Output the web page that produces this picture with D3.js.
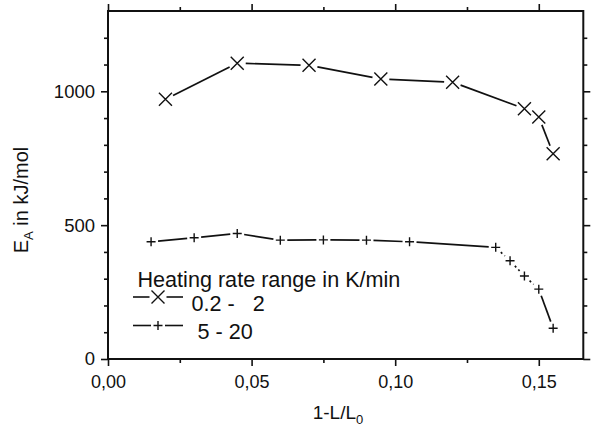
<!DOCTYPE html>
<html>
<head>
<meta charset="utf-8">
<script src="https://cdn.jsdelivr.net/npm/d3@7"></script>
<style>
  body { margin: 0; background: #fff; }
  svg { display: block; font-family: "Liberation Sans", Arial, sans-serif; }
  .axis path, .axis line { stroke: #111; }
  .axis text { fill: #111; }
</style>
</head>
<body>
<div id="chart"></div>
<script>
'use strict';

// heating rate 0.2 - 2 K/min
const shrinkLow = [0.02, 0.045, 0.07, 0.095, 0.12, 0.145, 0.15, 0.155];
const energyLow = [970, 1105, 1097, 1046, 1034, 935, 904, 767];

// heating rate 5 - 20 K/min
const shrinkHigh = [0.015, 0.03, 0.045, 0.06, 0.075, 0.09, 0.105, 0.135, 0.14, 0.145, 0.15, 0.155];
const energyHigh = [438, 453, 469, 444, 445, 444, 438, 417, 367, 310, 261, 115];
const dottedHigh = [7, 8, 9]; // segments drawn dotted

const xMajor = [0, 0.05, 0.10, 0.15];
const xMinor = [0.025, 0.075, 0.125];
const yMajor = [0, 500, 1000];
const yMinor = [100, 200, 300, 400, 600, 700, 800, 900, 1100, 1200];

const legendTitle = 'Heating rate range in K/min';
const legendLabels = ['0.2 -   2', ' 5 - 20'];

var W = 593, H = 427;
var plot = { left: 108, right: 583.3, top: 11, bottom: 359 };

var svg = d3.select('#chart').append('svg')
  .attr('width', W).attr('height', H);

var x = d3.scaleLinear().domain([0, 0.1655]).range([plot.left, plot.right]);
var y = d3.scaleLinear().domain([0, 1300]).range([plot.bottom, plot.top]);

function fmtComma(d) { return d3.format('.2f')(d).replace('.', ','); }

function addAxis(axis, tx, ty, withText, fontSize, pad) {
  var g = svg.append('g').attr('class', 'axis')
    .attr('transform', `translate(${tx},${ty})`)
    .call(axis.tickSizeOuter(0).tickPadding(pad || 3));
  g.select('.domain').remove();
  g.selectAll('line').attr('stroke-width', 1.6);
  if (withText) g.selectAll('text').style('font-size', fontSize + 'px');
  else g.selectAll('text').remove();
  return g;
}

// major and minor ticks on all four sides
addAxis(d3.axisBottom(x).tickValues(xMajor).tickSize(7).tickFormat(fmtComma), 0, plot.bottom, true, 18, 9.5);
addAxis(d3.axisBottom(x).tickValues(xMinor).tickSize(4), 0, plot.bottom, false);
addAxis(d3.axisTop(x).tickValues(xMajor).tickSize(7), 0, plot.top, false);
addAxis(d3.axisTop(x).tickValues(xMinor).tickSize(4), 0, plot.top, false);
addAxis(d3.axisLeft(y).tickValues(yMajor).tickSize(7).tickFormat(d3.format('d')), plot.left, 0, true, 18.5, 6);
addAxis(d3.axisLeft(y).tickValues(yMinor).tickSize(4), plot.left, 0, false);
addAxis(d3.axisRight(y).tickValues(yMajor).tickSize(7), plot.right, 0, false);
addAxis(d3.axisRight(y).tickValues(yMinor).tickSize(4), plot.right, 0, false);

// frame
svg.append('rect')
  .attr('x', plot.left).attr('y', plot.top)
  .attr('width', plot.right - plot.left).attr('height', plot.bottom - plot.top)
  .attr('fill', 'none').attr('stroke', '#111').attr('stroke-width', 2);

function markerPath(type, s) {
  if (type === 'x') return `M${-s},${-s}L${s},${s}M${-s},${s}L${s},${-s}`;
  return `M${-s},0L${s},0M0,${-s}L0,${s}`;
}

// draw a polyline whose segments stop short of each marker
function drawSeries(xs, ys, type, gap, size, dotted) {
  var g = svg.append('g');
  var pts = xs.map(function(v, i) { return [x(v), y(ys[i])]; });
  for (var i = 0; i < pts.length - 1; i++) {
    var a = pts[i], b = pts[i + 1];
    var dx = b[0] - a[0], dy = b[1] - a[1];
    var len = Math.sqrt(dx * dx + dy * dy);
    if (len <= 2 * gap) continue;
    var ux = dx / len, uy = dy / len;
    g.append('line')
      .attr('x1', a[0] + ux * gap).attr('y1', a[1] + uy * gap)
      .attr('x2', b[0] - ux * gap).attr('y2', b[1] - uy * gap)
      .attr('stroke', '#111').attr('stroke-width', 1.7)
      .attr('stroke-dasharray', dotted && dotted.indexOf(i) >= 0 ? '2,3' : null);
  }
  g.selectAll('path').data(pts).join('path')
    .attr('transform', function(d) { return `translate(${d[0]},${d[1]})`; })
    .attr('d', markerPath(type, size))
    .attr('fill', 'none').attr('stroke', '#111').attr('stroke-width', 1.4);
}

drawSeries(shrinkLow, energyLow, 'x', 8.5, 6.5);
drawSeries(shrinkHigh, energyHigh, '+', 7, 4.5, dottedHigh);

// legend
var lg = svg.append('g').attr('transform', 'translate(137.5,287)');
lg.append('text').text(legendTitle)
  .style('font-size', '21.6px').attr('fill', '#111');

[['x', 8.5, 6.5], ['+', 7, 4.5]].forEach(function(m, i) {
  var cy = 10 + i * 28.5;
  var row = lg.append('g').attr('transform', `translate(20.5,${cy})`);
  row.append('line').attr('x1', -25).attr('x2', -m[1]).attr('stroke', '#111').attr('stroke-width', 1.6);
  row.append('line').attr('x1', m[1]).attr('x2', 25).attr('stroke', '#111').attr('stroke-width', 1.6);
  row.append('path').attr('d', markerPath(m[0], m[2]))
    .attr('fill', 'none').attr('stroke', '#111').attr('stroke-width', 1.4);
  lg.append('text').attr('x', 54).attr('y', cy + 13.5)
    .style('font-size', '21.6px').style('white-space', 'pre').attr('fill', '#111')
    .text(legendLabels[i]);
});

// axis titles
var xt = svg.append('text').attr('x', 338).attr('y', 419)
  .attr('text-anchor', 'middle').style('font-size', '19px').attr('fill', '#111');
xt.append('tspan').text('1-L/L');
xt.append('tspan').attr('dy', 5).style('font-size', '13px').text('0');

var yt = svg.append('text')
  .attr('transform', 'translate(28,200) rotate(-90)')
  .attr('text-anchor', 'middle').style('font-size', '20px').attr('fill', '#111');
yt.append('tspan').text('E');
yt.append('tspan').attr('dy', 5).style('font-size', '13px').text('A');
yt.append('tspan').attr('dy', -5).text(' in kJ/mol');
</script>
</body>
</html>
